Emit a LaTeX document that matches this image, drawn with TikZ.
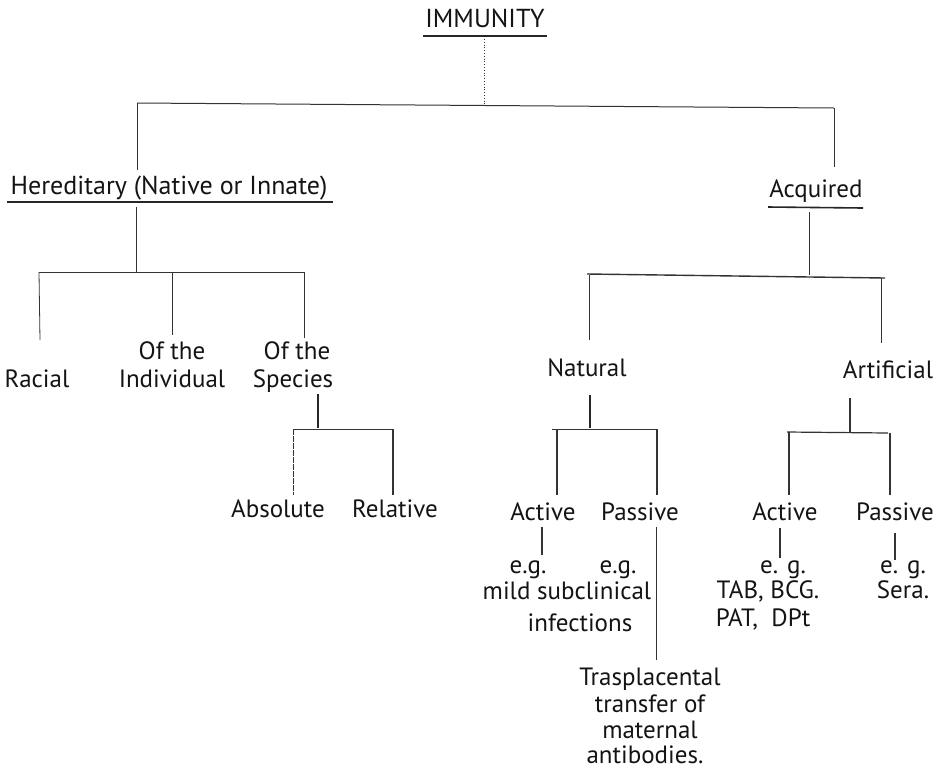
\documentclass[tikz,border=0pt]{standalone}
\usepackage{fontspec}
\setmainfont{PT Sans}
\begin{document}
\begin{tikzpicture}[x=1pt,y=-1pt,
  lbl/.style={inner sep=0pt, anchor=base, font=\fontsize{25}{28}\selectfont, text=black!92},
  ln/.style={line width=0.8pt, draw=black!80},
  thk/.style={line width=2.6pt, draw=black!85},
  ul/.style={line width=1.8pt, draw=black!85}]
\useasboundingbox[fill=white] (0,0) rectangle (939,772);

% ---- text nodes ----
\node[lbl, font=\fontsize{26}{28}\selectfont] (imm) at (485,27) {IMMUNITY};
\node[lbl, font=\fontsize{26}{28}\selectfont] (her) at (169,194) {Hereditary (Native or Innate)};
\node[lbl] (acq) at (816,197) {Acquired};
\node[lbl] (rac) at (37,387) {Racial};
\node[lbl] (ind1) at (172,359) {Of the};
\node[lbl] (ind2) at (172,387) {Individual};
\node[lbl] (spe1) at (297,359) {Of the};
\node[lbl] (spe2) at (293,387) {Species};
\node[lbl] (nat) at (587,376) {Natural};
\node[lbl] (art) at (888,378) {Artificial};
\node[lbl] (abs) at (278,517) {Absolute};
\node[lbl] (rel) at (395,517) {Relative};
\node[lbl] (nact) at (543,520) {Active};
\node[lbl] (npas) at (640,520) {Passive};
\node[lbl] (aact) at (785,520) {Active};
\node[lbl] (apas) at (895,520) {Passive};
\node[lbl] (eg1) at (528,573) {e.g.};
\node[lbl] (eg2) at (618,573) {e.g.};
\node[lbl] (mild) at (567,599) {mild subclinical};
\node[lbl] (inf) at (580,631) {infections};
\node[lbl] (eg3) at (783,573) {e. g.};
\node[lbl] (tab) at (768,598) {TAB, BCG.};
\node[lbl] (pat) at (763,626) {PAT, \ DPt};
\node[lbl] (eg4) at (903,573) {e. g.};
\node[lbl] (sera) at (903,598) {Sera.};
\node[lbl] (tr1) at (650,685) {Trasplacental};
\node[lbl] (tr2) at (650,712) {transfer of};
\node[lbl] (tr3) at (650,738) {maternal};
\node[lbl] (tr4) at (645,763) {antibodies.};

% ---- junction coordinates ----
\coordinate (immU1) at (423,36);  \coordinate (immU2) at (547,36);
\coordinate (herU1) at (7,202);   \coordinate (herU2) at (333,202);
\coordinate (acqU1) at (768,207); \coordinate (acqU2) at (863,208);
\coordinate (d0) at (484,39);     \coordinate (d1) at (484,104);
\coordinate (hL) at (137,103);    \coordinate (hR) at (834,108);
\coordinate (herT) at (137,170);  \coordinate (acqT) at (834,167);
\coordinate (herB) at (136,207);  \coordinate (herJ) at (136,272);
\coordinate (h2L) at (39,272);    \coordinate (h2R) at (304,272);
\coordinate (racT) at (40,340);   \coordinate (indJ) at (172,272);
\coordinate (indT) at (172,335);  \coordinate (speT) at (304,338);
\coordinate (speB1) at (318,394); \coordinate (speB2) at (318,428);
\coordinate (h3L) at (293,429);   \coordinate (h3R) at (393,429);
\coordinate (absT) at (293,495);  \coordinate (relT) at (393,495);
\coordinate (acqB) at (809,212);  \coordinate (acqJ) at (809,275);
\coordinate (h4L) at (587,274);   \coordinate (h4R) at (885,278);
\coordinate (natJ) at (589,275);  \coordinate (natT) at (589,340);
\coordinate (artJ) at (881,278);  \coordinate (artT) at (881,343);
\coordinate (natB1) at (590,395); \coordinate (natB2) at (590,428);
\coordinate (h5L) at (552,429);   \coordinate (h5R) at (657,429);
\coordinate (nactJ) at (557,429); \coordinate (nactT) at (557,495);
\coordinate (npasT) at (657,495);
\coordinate (artB1) at (850,398); \coordinate (artB2) at (850,432);
\coordinate (h6L) at (787,432);   \coordinate (h6R) at (888,433);
\coordinate (aactJ) at (789,432); \coordinate (aactT) at (789,495);
\coordinate (apasJ) at (890,433); \coordinate (apasT) at (890,495);
\coordinate (nactB1) at (542,527); \coordinate (nactB2) at (542,555);
\coordinate (npasB1) at (656,527); \coordinate (npasB2) at (656,660);
\coordinate (aactB1) at (780,528); \coordinate (aactB2) at (780,558);
\coordinate (apasB1) at (895,533); \coordinate (apasB2) at (895,560);

% ---- underlines ----
\draw[ul] (immU1) -- (immU2);
\draw[ul, line width=1.4pt] (herU1) -- (herU2);
\draw[ul, line width=1.6pt] (acqU1) -- (acqU2);

% ---- connectors ----
\draw[ln, dotted, line width=0.9pt] (d0) -- (d1);
\draw[ln, line width=1pt] (hL) -- (hR);
\draw[ln] (hL) -- (herT);
\draw[ln] (hR) -- (acqT);
\draw[ln] (herB) -- (herJ);
\draw[ln, line width=1pt] (h2L) -- (h2R);
\draw[ln] (h2L) -- (racT);
\draw[ln] (indJ) -- (indT);
\draw[ln] (h2R) -- (speT);
\draw[thk] (speB1) -- (speB2);
\draw[ln, line width=1pt] (h3L) -- (h3R);
\draw[ln, dashed, dash pattern=on 6pt off 1pt] (h3L) -- (absT);
\draw[ln, line width=1.1pt] (h3R) -- (relT);
\draw[ln, line width=1pt] (acqB) -- (acqJ);
\draw[ln, line width=1.4pt] (h4L) -- (h4R);
\draw[ln] (natJ) -- (natT);
\draw[ln] (artJ) -- (artT);
\draw[thk] (natB1) -- (natB2);
\draw[ln, line width=1pt] (h5L) -- (h5R);
\draw[ln, line width=1.1pt] (nactJ) -- (nactT);
\draw[ln, line width=1.1pt] (h5R) -- (npasT);
\draw[ln, line width=1.8pt] (artB1) -- (artB2);
\draw[ln, line width=1.2pt] (h6L) -- (h6R);
\draw[ln, line width=1.1pt] (aactJ) -- (aactT);
\draw[ln, line width=1.1pt] (apasJ) -- (apasT);
\draw[ln, line width=1.6pt] (nactB1) -- (nactB2);
\draw[ln, line width=1pt] (npasB1) -- (npasB2);
\draw[ln, line width=1.6pt] (aactB1) -- (aactB2);
\draw[ln, line width=1.3pt] (apasB1) -- (apasB2);
\end{tikzpicture}
\end{document}
